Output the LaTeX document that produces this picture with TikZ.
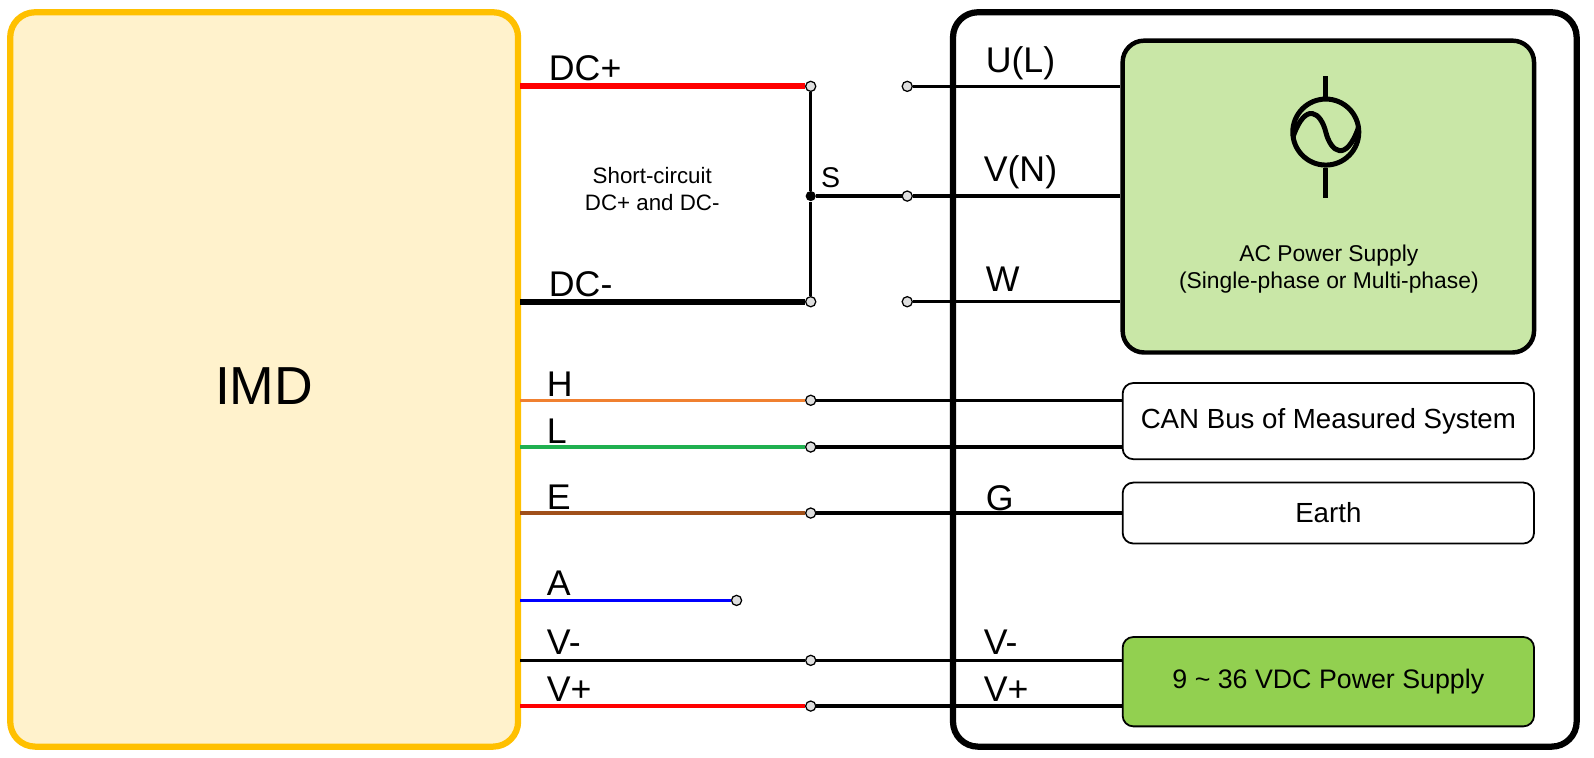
\documentclass[tikz,border=0pt]{standalone}
\usepackage{fontspec}
\setmainfont{Liberation Sans}
\usetikzlibrary{positioning, calc}
\definecolor{imdline}{HTML}{FFC000}
\definecolor{imdfill}{HTML}{FFF2CC}
\definecolor{acfill}{HTML}{C9E7A7}
\definecolor{dcfill}{HTML}{92D050}
\definecolor{hwire}{HTML}{F08030}
\definecolor{lwire}{HTML}{20B050}
\definecolor{ewire}{HTML}{A0501A}
\begin{document}
\begin{tikzpicture}[x=0.02cm, y=-0.02cm,
  term/.style={draw, circle, fill=gray!25, inner sep=0pt, minimum size=0.2cm, line width=0.7pt},
  blk/.style={draw, rounded corners=6pt, line width=1pt, fill=white, font=\fontsize{15.5}{18}\selectfont},
  lbl/.style={font=\fontsize{20}{22}\selectfont, anchor=west, inner sep=0pt},
  wire/.style={line width=1.9pt},
  bus/.style={line width=3.2pt},
]
\useasboundingbox (0,0) rectangle (1569,746);

% Enclosures
\node[draw=imdline, fill=imdfill, line width=3.5pt, rounded corners=14pt,
      minimum width=10cm, minimum height=14.46cm] (imd) at (260,373.5) {};
\node[font=\fontsize{30}{34}\selectfont] at (260,380) {IMD};
\node[draw, line width=3.5pt, rounded corners=14pt,
      minimum width=12.28cm, minimum height=14.46cm] (sys) at (1245,373.5) {};

% Right-hand blocks
\node[blk, fill=acfill, line width=2.5pt, rounded corners=12pt, minimum width=8.1cm, minimum height=6.14cm] (ac) at (1307.5,193.5) {};
\node[font=\fontsize{12.8}{15}\selectfont, align=center] at (1308,265) {AC Power Supply\\(Single-phase or Multi-phase)};
\node[blk, minimum width=8.1cm, minimum height=1.5cm] (can) at (1307.5,414.5) {CAN Bus of Measured System};
\node[blk, minimum width=8.1cm, minimum height=1.2cm] (earth) at (1307.5,505) {Earth};
\node[blk, fill=dcfill, minimum width=8.1cm, minimum height=1.76cm, font=\fontsize{15}{18}\selectfont] (vdc) at (1307.5,671) {9 \textasciitilde{} 36 VDC Power Supply};

% AC source symbol
\node[draw, circle, line width=2.8pt, minimum size=1.3cm, inner sep=0pt] (src) at (1305,130) {};
\draw[line width=2.8pt] (1305,75) -- (src.north);
\draw[line width=2.8pt] (src.south) -- (1305,195);
\draw[line width=2.8pt] (1273,134) .. controls (1285,100) and (1300,110) .. (1305,130)
  .. controls (1310,150) and (1325,160) .. (1337,126);

% Terminals
\node[term] (tdcp) at (798,85) {};
\node[term] (tdcm) at (798,297) {};
\node[circle, fill, inner sep=0pt, minimum size=0.2cm] (ts) at (798,193) {};
\node[term] (tu) at (893,85) {};
\node[term] (tv) at (893,193) {};
\node[term] (tw) at (893,297) {};
\node[term] (th) at (798,394) {};
\node[term] (tl) at (798,440) {};
\node[term] (te) at (798,505) {};
\node[term] (ta) at (725,591) {};
\node[term] (tvm) at (798,650) {};
\node[term] (tvp) at (798,695) {};

% IMD side wires
\draw[bus, red] (512,85) -- (tdcp);
\draw[bus, black] (512,297) -- (tdcm);
\draw[wire] (tdcp) -- (ts) -- (tdcm);
\draw[wire] (ts) -- (tv);
\draw[wire, hwire] (512,394) -- (th);
\draw[wire, lwire] (512,440) -- (tl);
\draw[wire, ewire] (512,505) -- (te);
\draw[wire, blue] (512,591) -- (ta);
\draw[wire] (512,650) -- (tvm);
\draw[wire, red] (512,695) -- (tvp);

% System side wires
\draw[wire] (tu) -- (tu -| ac.west);
\draw[wire] (tv) -- (tv -| ac.west);
\draw[wire] (tw) -- (tw -| ac.west);
\draw[wire] (th) -- (th -| can.west);
\draw[wire] (tl) -- (tl -| can.west);
\draw[wire] (te) -- (te -| earth.west);
\draw[wire] (tvm) -- (tvm -| vdc.west);
\draw[wire] (tvp) -- (tvp -| vdc.west);

% Labels
\node[lbl] at (540,67) {DC+};
\node[lbl] at (540,280) {DC-};
\node[lbl] at (538,378) {H};
\node[lbl] at (538,424) {L};
\node[lbl] at (538,489) {E};
\node[lbl] at (538,574) {A};
\node[lbl] at (538,632) {V-};
\node[lbl] at (538,678) {V+};
\node[lbl] at (970,62) {U(L)};
\node[lbl] at (968,170) {V(N)};
\node[lbl] at (970,275) {W};
\node[lbl] at (970,490) {G};
\node[lbl] at (968,632) {V-};
\node[lbl] at (968,678) {V+};
\node[lbl, font=\fontsize{16}{18}\selectfont] at (808,175) {S};
\node[font=\fontsize{12.5}{15}\selectfont, align=center] at (642,186) {Short-circuit\\DC+ and DC-};
\end{tikzpicture}
\end{document}
